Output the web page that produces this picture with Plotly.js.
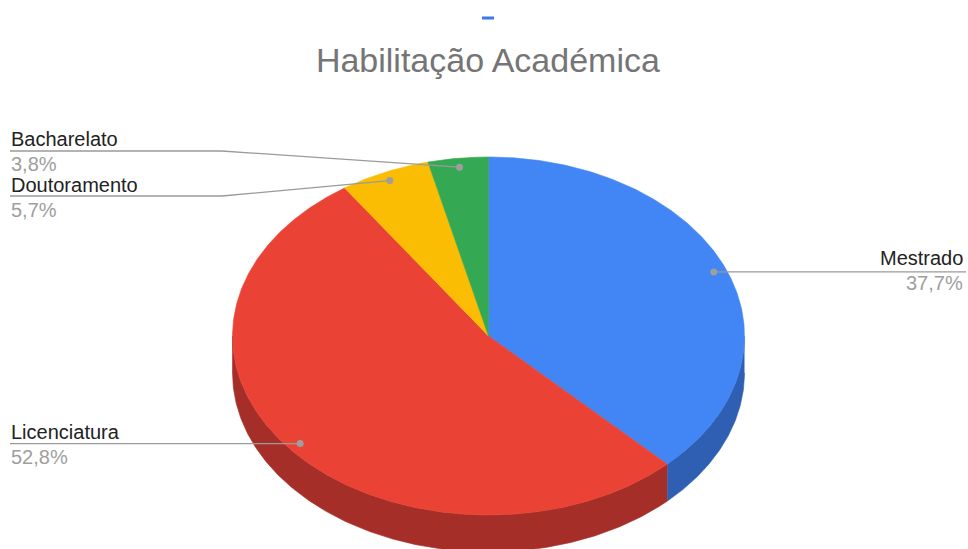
<!DOCTYPE html>
<html>
<head>
<meta charset="utf-8">
<script src="https://cdn.plot.ly/plotly-3.0.1.min.js"></script>
<style>html,body{margin:0;padding:0;background:#fff;}#chart{width:968px;height:549px;}</style>
</head>
<body>
<div id="chart"></div>
<script>
// ---- data ----
const labels = ['Mestrado', 'Licenciatura', 'Doutoramento', 'Bacharelato'];
const values = [37.7, 52.8, 5.7, 3.8];
const pctLabels = ['37,7%', '52,8%', '5,7%', '3,8%'];
const colors = ['#4285f4', '#ea4335', '#fbbc04', '#34a853'];
const sideColors = ['#2e5fb2', '#a52f28', '#b88a03', '#267a3c'];
const chartTitle = 'Habilitação Académica';

// ---- layout geometry (pixel-like axis units) ----
const W = 968, H = 549;
const cx = 488.5, cy = 336, rx = 256, ry = 179, depth = 37;
const dotFrac = 0.95;
// label placement: side, text y, line y, elbow x
const labelPos = {
  'Mestrado':     {side: 'right', y: 258},
  'Licenciatura': {side: 'left',  y: 432},
  'Doutoramento': {side: 'left',  y: 185, lineY: 196, elbow: 222},
  'Bacharelato':  {side: 'left',  y: 139, lineY: 151, elbow: 222}
};

function pt(deg, f, dy) {
  const t = deg * Math.PI / 180;
  f = f === undefined ? 1 : f;
  return [cx + rx * f * Math.sin(t), cy - ry * f * Math.cos(t) + (dy || 0)];
}

const total = values.reduce((a, b) => a + b, 0);
const slices = [];
let acc = 0;
values.forEach((v, i) => {
  const a0 = acc / total * 360;
  acc += v;
  const a1 = acc / total * 360;
  slices.push({a0, a1, i});
});

const traces = [];
// side faces
slices.forEach(s => {
  const st = Math.max(s.a0, 90), en = Math.min(s.a1, 270);
  if (en <= st) return;
  const xs = [], ys = [];
  for (let d = st; d <= en; d += 0.5) { const p = pt(d); xs.push(p[0]); ys.push(p[1]); }
  { const p = pt(en); xs.push(p[0]); ys.push(p[1]); }
  for (let d = en; d >= st; d -= 0.5) { const p = pt(d, 1, depth); xs.push(p[0]); ys.push(p[1]); }
  { const p = pt(st, 1, depth); xs.push(p[0]); ys.push(p[1]); }
  traces.push({type: 'scatter', mode: 'lines', x: xs, y: ys, fill: 'toself',
    fillcolor: sideColors[s.i], line: {color: sideColors[s.i], width: 0.6},
    hoverinfo: 'skip', showlegend: false});
});
// top faces
slices.forEach(s => {
  const xs = [cx], ys = [cy];
  for (let d = s.a0; d <= s.a1; d += 0.5) { const p = pt(d); xs.push(p[0]); ys.push(p[1]); }
  { const p = pt(s.a1); xs.push(p[0]); ys.push(p[1]); }
  xs.push(cx); ys.push(cy);
  traces.push({type: 'scatter', mode: 'lines', x: xs, y: ys, fill: 'toself',
    fillcolor: colors[s.i], line: {color: colors[s.i], width: 0.6},
    name: labels[s.i], hoverinfo: 'name', showlegend: false});
});

// leader lines, dots, labels
const annotations = [];
const lineColor = '#9a9a9a';
slices.forEach(s => {
  const name = labels[s.i];
  const lp = labelPos[name];
  const mid = (s.a0 + s.a1) / 2;
  const d = pt(mid, dotFrac);
  let lx, ly;
  if (lp.side === 'right') {
    lx = [d[0], W - 2]; ly = [d[1], d[1]];
  } else if (lp.elbow) {
    lx = [10, lp.elbow, d[0]]; ly = [lp.lineY, lp.lineY, d[1]];
  } else {
    lx = [10, d[0]]; ly = [d[1], d[1]];
  }
  traces.push({type: 'scatter', mode: 'lines', x: lx, y: ly,
    line: {color: lineColor, width: 1.3}, hoverinfo: 'skip', showlegend: false});
  traces.push({type: 'scatter', mode: 'markers', x: [d[0]], y: [d[1]],
    marker: {color: '#9e9e9e', size: 7}, hoverinfo: 'skip', showlegend: false});
  const ax = lp.side === 'right' ? W - 3 : 9;
  const anchor = lp.side === 'right' ? 'right' : 'left';
  annotations.push({x: ax, y: lp.y, xref: 'x', yref: 'y', text: name, showarrow: false,
    xanchor: anchor, yanchor: 'middle', font: {size: 20, color: '#222222'}});
  annotations.push({x: ax, y: lp.y + 25, xref: 'x', yref: 'y', text: pctLabels[s.i], showarrow: false,
    xanchor: anchor, yanchor: 'middle', font: {size: 20, color: '#9e9e9e'}});
});

const layout = {
  width: W, height: H,
  margin: {l: 0, r: 0, t: 0, b: 0},
  paper_bgcolor: '#ffffff', plot_bgcolor: '#ffffff',
  font: {family: '"Liberation Sans", Arial, sans-serif'},
  title: {text: chartTitle, x: 0.504, xanchor: 'center', y: 1 - 60 / H, yanchor: 'middle',
    font: {size: 34, color: '#757575', family: '"Liberation Sans", Arial, sans-serif'}},
  xaxis: {range: [0, W], visible: false, fixedrange: true},
  yaxis: {range: [H, 0], visible: false, fixedrange: true},
  showlegend: false,
  annotations: annotations,
  shapes: [{type: 'rect', xref: 'x', yref: 'y', x0: 482, x1: 494, y0: 16.5, y1: 19.5,
    fillcolor: '#3b78e7', line: {width: 0}}]
};

Plotly.newPlot('chart', traces, layout, {staticPlot: true, displayModeBar: false});
</script>
</body>
</html>
